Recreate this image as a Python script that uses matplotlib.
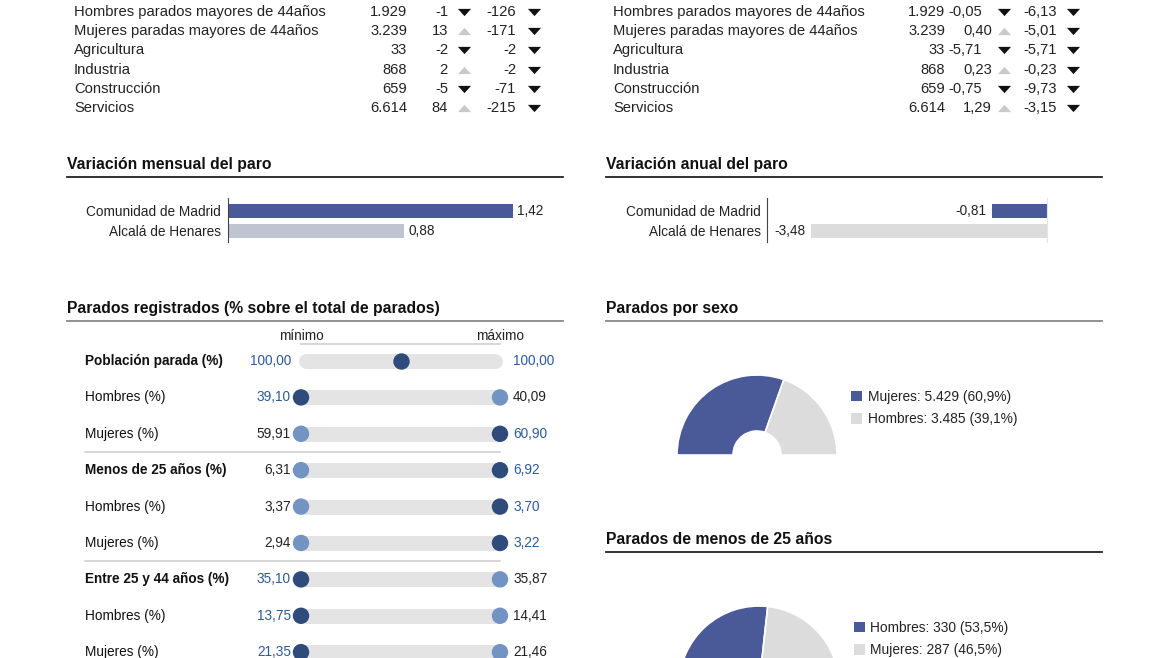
import matplotlib
matplotlib.use('Agg')
import matplotlib.pyplot as plt
from matplotlib.patches import Patch
from matplotlib.transforms import blended_transform_factory

plt.rcParams['font.family'] = ['Liberation Sans', 'DejaVu Sans']

# ---- data ----
row_labels = ['Hombres parados mayores de 44años', 'Mujeres paradas mayores de 44años',
              'Agricultura', 'Industria', 'Construcción', 'Servicios']
parados = [1929, 3239, 33, 868, 659, 6614]
var_mensual_abs = [-1, 13, -2, 2, -5, 84]
var_anual_abs = [-126, -171, -2, -2, -71, -215]
var_mensual_pct = [-0.05, 0.40, -5.71, 0.23, -0.75, 1.29]
var_anual_pct = [-6.13, -5.01, -5.71, -0.23, -9.73, -3.15]

zonas = ['Comunidad de Madrid', 'Alcalá de Henares']
paro_mensual = [1.42, 0.88]
paro_anual = [-0.81, -3.48]

grupos = ['Población parada (%)', 'Hombres (%)', 'Mujeres (%)',
          'Menos de 25 años (%)', 'Hombres (%)', 'Mujeres (%)',
          'Entre 25 y 44 años (%)', 'Hombres (%)', 'Mujeres (%)']
grupo_bold = [True, False, False, True, False, False, True, False, False]
pct_min = [100.00, 39.10, 59.91, 6.31, 3.37, 2.94, 35.10, 13.75, 21.35]
pct_max = [100.00, 40.09, 60.90, 6.92, 3.70, 3.22, 35.87, 14.41, 21.46]
municipio = ['both', 'min', 'max', 'max', 'max', 'max', 'min', 'min', 'min']

sexo_labels = ['Mujeres', 'Hombres']
sexo_vals = [5429, 3485]
jov_labels = ['Hombres', 'Mujeres']
jov_vals = [330, 287]

# ---- colours ----
BLUE = '#4a5a99'
NAVY = '#2e4b7c'
LIGHT_DOT = '#7393c2'
BLUE_TXT = '#2c5a96'
GRAY = '#dcdcdc'
TXT = '#222222'


def miles(v):
    return f"{v:,}".replace(',', '.')


def dec(v, n=2):
    return f"{v:.{n}f}".replace('.', ',')


W, H = 1170, 658
fig = plt.figure(figsize=(W / 100, H / 100), dpi=100)
ov = fig.add_axes([0, 0, 1, 1])
ov.set_xlim(0, W)
ov.set_ylim(H, 0)
ov.axis('off')


def px_axes(x0, y0, x1, y1):
    return fig.add_axes([x0 / W, 1 - y1 / H, (x1 - x0) / W, (y1 - y0) / H])


# ---- top tables ----
down = [(-1, 0.55), (1, 0.55), (0, -0.55)]
up = [(-1, -0.55), (1, -0.55), (0, 0.55)]


def tri(x, y, v):
    ov.scatter([x], [y], marker=down if v < 0 else up, s=90,
               c='#111111' if v < 0 else '#c9c9c9', linewidths=0)


fs = 10.6
for i, lab in enumerate(row_labels):
    y = 12 + 19.2 * i
    # left: absolute values
    ov.text(74, y, lab, va='center', fontsize=fs, color=TXT)
    ov.text(407, y, miles(parados[i]), ha='right', va='center', fontsize=fs, color=TXT)
    ov.text(448, y, str(var_mensual_abs[i]), ha='right', va='center', fontsize=fs, color=TXT)
    tri(464, y, var_mensual_abs[i])
    ov.text(516, y, str(var_anual_abs[i]), ha='right', va='center', fontsize=fs, color=TXT)
    tri(534, y, var_anual_abs[i])
    # right: percentages
    ov.text(613, y, lab, va='center', fontsize=fs, color=TXT)
    ov.text(945, y, miles(parados[i]), ha='right', va='center', fontsize=fs, color=TXT)
    vm = var_mensual_pct[i]
    ov.text(982 if vm < 0 else 992, y, dec(vm), ha='right', va='center', fontsize=fs, color=TXT)
    tri(1004, y, vm)
    ov.text(1057, y, dec(var_anual_pct[i]), ha='right', va='center', fontsize=fs, color=TXT)
    tri(1073, y, var_anual_pct[i])

# ---- section titles ----
titles = [(67, 164, 177, 'Variación mensual del paro', '#222222'),
          (606, 164, 177, 'Variación anual del paro', '#222222'),
          (67, 308, 321, 'Parados registrados (% sobre el total de parados)', '#888888'),
          (606, 308, 321, 'Parados por sexo', '#888888'),
          (606, 539, 552, 'Parados de menos de 25 años', '#222222')]
for x, y, yl, t, lc in titles:
    ov.text(x, y, t, va='center', fontsize=11.3, fontweight='bold', color='#111111')
    ov.plot([x, x + 496], [yl, yl], color=lc, lw=1.3)

# ---- monthly variation bars ----
axm = px_axes(228, 198, 548, 242)
bars = axm.barh(range(2), paro_mensual, height=0.7, color=[BLUE, '#c0c4d0'])
axm.set_xlim(0, 320 / 200.5)
axm.set_ylim(1.575, -0.625)
axm.bar_label(bars, labels=[dec(v) for v in paro_mensual], padding=3, fontsize=9.8, color=TXT)
axm.set_yticks(range(2), zonas)
axm.set_xticks([])
axm.tick_params(axis='y', length=0, pad=5, labelsize=9.8, labelcolor=TXT)
for s in ['top', 'right', 'bottom']:
    axm.spines[s].set_visible(False)
axm.spines['left'].set_color('#444444')
axm.set_facecolor('none')

# ---- annual variation bars ----
axa = px_axes(767, 198, 1047, 242)
bars = axa.barh(range(2), paro_anual, height=0.7, color=[BLUE, GRAY])
axa.set_xlim(-280 / 67.7, 0)
axa.set_ylim(1.575, -0.625)
axa.bar_label(bars, labels=[dec(v) for v in paro_anual], padding=4, fontsize=9.8, color=TXT)
axa.set_yticks(range(2), zonas)
axa.set_xticks([])
axa.tick_params(axis='y', length=0, pad=4.3, labelsize=9.8, labelcolor=TXT)
for s in ['top', 'bottom']:
    axa.spines[s].set_visible(False)
axa.spines['right'].set_color('#e4e4e4')
axa.spines['left'].set_color('#444444')
axa.set_facecolor('none')

# ---- registered unemployed: min / max tracks ----
axd = px_axes(301, 343, 500, 670)
axd.set_xlim(0, 1)
axd.set_ylim(8.49, -0.495)
axd.axis('off')
px_y = blended_transform_factory(ov.transData, axd.transData)

axd.plot([0, 1], [-0.48, -0.48], color='#cccccc', lw=1.1, clip_on=False)
for t, xv in [('mínimo', 0), ('máximo', 1)]:
    axd.annotate(t, (xv, -0.5), xytext=(0, 7), textcoords='offset pixels',
                 ha='center', va='center', fontsize=9.8, color=TXT, annotation_clip=False)
for sep in [2.5, 5.5]:
    axd.plot([85, 500], [sep, sep], color='#cccccc', lw=1.1, transform=px_y, clip_on=False)

for i, g in enumerate(grupos):
    axd.plot([0.025, 0.975], [i, i], lw=10.8, color='#e4e4e4',
             solid_capstyle='round', zorder=1, clip_on=False)
    m = municipio[i]
    if m == 'both':
        axd.scatter([0.5], [i], s=117, color=NAVY, zorder=3, clip_on=False)
    else:
        axd.scatter([0, 1], [i, i], s=117, zorder=3, clip_on=False,
                    color=[NAVY if m == 'min' else LIGHT_DOT, NAVY if m == 'max' else LIGHT_DOT])
    axd.text(85, i, g, transform=px_y, va='center', fontsize=9.8, color='#111111',
             fontweight='bold' if grupo_bold[i] else 'normal', clip_on=False)
    axd.annotate(dec(pct_min[i]), (0, i), xytext=(-10, 0), textcoords='offset pixels',
                 ha='right', va='center', fontsize=9.8, annotation_clip=False,
                 color=BLUE_TXT if m in ('min', 'both') else TXT)
    axd.annotate(dec(pct_max[i]), (1, i), xytext=(13, 0), textcoords='offset pixels',
                 ha='left', va='center', fontsize=9.8, annotation_clip=False,
                 color=BLUE_TXT if m in ('max', 'both') else TXT)


# ---- half donuts ----
def half_donut(cx, cy, labels, vals, lx, ly):
    ax = px_axes(cx - 100, cy - 100, cx + 100, cy + 100)
    total = sum(vals)
    wedges, _ = ax.pie(vals + [total], colors=[BLUE, GRAY, 'none'], startangle=180,
                       counterclock=False, radius=1.0,
                       wedgeprops=dict(width=0.70, edgecolor='white', linewidth=1.2))
    wedges[2].set_visible(False)
    ax.set_xlim(-1.25, 1.25)
    ax.set_ylim(-1.25, 1.25)
    ax.axis('off')
    texts = [f"{lab}: {miles(v)} ({dec(v / total * 100, 1)}%)" for lab, v in zip(labels, vals)]
    handles = [Patch(facecolor=c, edgecolor='none') for c in [BLUE, GRAY]]
    ax.legend(handles, texts, loc='center left', bbox_to_anchor=(lx, ly),
              bbox_transform=ov.transData, frameon=False, fontsize=9.9,
              handlelength=0.8, handleheight=0.8, handletextpad=0.4,
              labelspacing=0.6, borderpad=0, borderaxespad=0, labelcolor=TXT)


half_donut(757, 455, sexo_labels, sexo_vals, 851, 408)
half_donut(759, 686, jov_labels, jov_vals, 854, 639)

fig.savefig('out.png', dpi=100)
